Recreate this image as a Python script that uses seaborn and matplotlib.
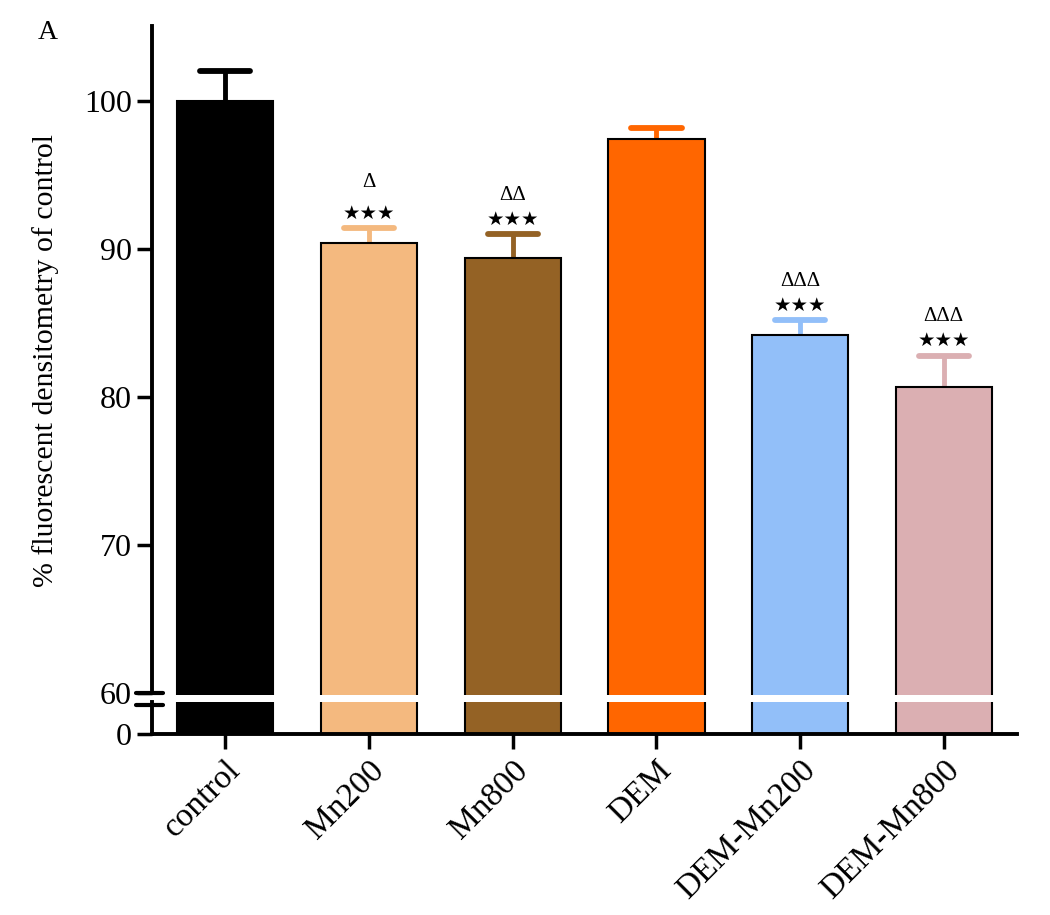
import numpy as np
import pandas as pd
import seaborn as sns
import matplotlib.pyplot as plt
import matplotlib.transforms as mtransforms

# dados
grupos = ["control", "Mn200", "Mn800", "DEM", "DEM-Mn200", "DEM-Mn800"]
valores = [100.0, 90.4, 89.4, 97.4, 84.2, 80.7]
erros = [2.0, 1.0, 1.6, 0.8, 1.0, 2.1]
cores = ["#000000", "#F4B97F", "#946225", "#FF6600", "#92BFF9", "#DBAFB2"]
estrelas = ["", "★★★", "★★★", "", "★★★", "★★★"]
triangulos = ["", "Δ", "ΔΔ", "", "ΔΔΔ", "ΔΔΔ"]

df = pd.DataFrame({"grupo": grupos, "valor": valores})

sns.set_style("ticks")
plt.rcParams["font.family"] = ["Liberation Serif", "DejaVu Sans"]
plt.rcParams["text.color"] = "black"
plt.rcParams["axes.labelcolor"] = "black"
plt.rcParams["axes.edgecolor"] = "black"
plt.rcParams["xtick.color"] = "black"
plt.rcParams["ytick.color"] = "black"

fig = plt.figure(figsize=(10.5, 9.15), dpi=100)
ax = fig.add_axes([0.1448, 0.2404, 0.8238, 0.7312])
ax2 = fig.add_axes([0.1448, 0.1978, 0.8238, 0.0350])

for a in (ax, ax2):
    sns.barplot(data=df, x="grupo", y="valor", hue="grupo", palette=cores,
                order=grupos, hue_order=grupos, legend=False, errorbar=None,
                saturation=1, width=0.67, edgecolor="black", linewidth=1.5, ax=a)
    a.set_xlim(-0.51, 5.51)
    a.set_xlabel("")
    a.set_ylabel("")

# barras de erro (so para cima)
meia_cap = 0.175
for i, (v, e, c) in enumerate(zip(valores, erros, cores)):
    ax.plot([i, i], [v, v + e], color=c, lw=3.5, zorder=0)
    ax.plot([i - meia_cap, i + meia_cap], [v + e, v + e], color=c, lw=4.2,
            solid_capstyle="round", zorder=0)
    # anotacoes
    if estrelas[i]:
        ax.annotate(estrelas[i], (i, v + e), xytext=(0, 4), textcoords="offset points",
                    ha="center", va="bottom", fontsize=14,
                    family=["DejaVu Sans"])
        ax.annotate(triangulos[i], (i, v + e), xytext=(0, 21 if i != 1 else 26),
                    textcoords="offset points", ha="center", va="bottom",
                    fontsize=15)

# eixo de cima
ax.set_ylim(59.86, 105.07)
ax.set_yticks([60, 70, 80, 90, 100])
ax.tick_params(axis="y", labelsize=23, width=2.5, length=11, direction="out")
ax.tick_params(axis="x", bottom=False, labelbottom=False)
sns.despine(ax=ax, top=True, right=True, bottom=True)
ax.spines["left"].set_linewidth(2.8)
ax.spines["left"].set_bounds(60, 105.07)
ax.set_ylabel("% fluorescent densitometry of control", fontsize=21.5, labelpad=18)

# eixo de baixo
ax2.set_ylim(0, 2.2)
ax2.set_yticks([0])
ax2.tick_params(axis="y", labelsize=23, width=2.5, length=11, direction="out")
ax2.tick_params(axis="x", labelsize=24, width=2.5, length=11, direction="out", pad=4)
sns.despine(ax=ax2, top=True, right=True)
ax2.spines["left"].set_linewidth(2.8)
ax2.spines["bottom"].set_linewidth(2.8)
ax2.set_xticks(range(len(grupos)))
ax2.set_xticklabels(grupos, rotation=45, ha="right", rotation_mode="anchor")

# marcas de quebra
t1 = mtransforms.blended_transform_factory(ax.transAxes, ax.transData)
ax.plot([-0.018, 0.013], [60, 60], transform=t1, color="black", lw=3.0,
        clip_on=False, solid_capstyle="round")
t2 = mtransforms.blended_transform_factory(ax2.transAxes, ax2.transData)
ax2.plot([-0.018, 0.013], [2.0, 2.0], transform=t2, color="black", lw=3.0,
         clip_on=False, solid_capstyle="round")

fig.text(0.036, 0.965, "A", fontsize=20, va="center")

fig.savefig("out.png", dpi=100)
